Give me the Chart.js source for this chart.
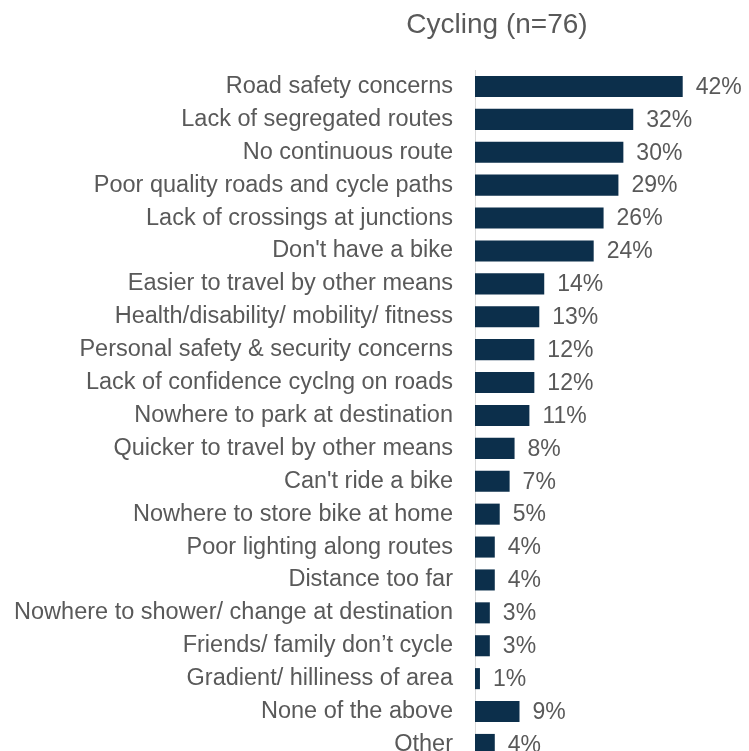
<!DOCTYPE html>
<html>
<head>
<meta charset="utf-8">
<script src="https://cdn.jsdelivr.net/npm/chart.js@4"></script>
<style>
  html, body { margin: 0; padding: 0; background: #fff; overflow: hidden; }
  canvas { display: block; }
</style>
</head>
<body>
<canvas id="cyclingChart" width="749" height="797"></canvas>
<script>
// === Data ===
const chartTitle = "Cycling (n=76)";
const categories = [
  "Road safety concerns",
  "Lack of segregated routes",
  "No continuous route",
  "Poor quality roads and cycle paths",
  "Lack of crossings at junctions",
  "Don't have a bike",
  "Easier to travel by other means",
  "Health/disability/ mobility/ fitness",
  "Personal safety & security concerns",
  "Lack of confidence cyclng on roads",
  "Nowhere to park at destination",
  "Quicker to travel by other means",
  "Can't ride a bike",
  "Nowhere to store bike at home",
  "Poor lighting along routes",
  "Distance too far",
  "Nowhere to shower/ change at destination",
  "Friends/ family don\u2019t cycle",
  "Gradient/ hilliness of area",
  "None of the above",
  "Other"
];
const percentages = [42, 32, 30, 29, 26, 24, 14, 13, 12, 12, 11, 8, 7, 5, 4, 4, 3, 3, 1, 9, 4];

const textColor = "#595959";
const barColor = "#0c2f4b";
const fontFamily = "'Liberation Sans', Arial, sans-serif";

// === Plugins: title + value labels ===
const titlePlugin = {
  id: "topTitle",
  afterDraw(chart) {
    const { ctx } = chart;
    ctx.save();
    ctx.font = `28px ${fontFamily}`;
    ctx.fillStyle = textColor;
    ctx.textAlign = "center";
    ctx.textBaseline = "middle";
    ctx.fillText(chartTitle, 497, 25);
    ctx.restore();
  }
};

const valueLabels = {
  id: "valueLabels",
  afterDatasetsDraw(chart) {
    const { ctx } = chart;
    const meta = chart.getDatasetMeta(0);
    ctx.save();
    ctx.font = `23px ${fontFamily}`;
    ctx.fillStyle = textColor;
    ctx.textAlign = "left";
    ctx.textBaseline = "middle";
    meta.data.forEach((bar, i) => {
      ctx.fillText(percentages[i] + "%", bar.x + 13, bar.y + 1);
    });
    ctx.restore();
  }
};

// === Chart ===
const ctx = document.getElementById("cyclingChart");

new Chart(ctx, {
  type: "bar",
  data: {
    labels: categories,
    datasets: [{
      data: percentages,
      backgroundColor: barColor,
      borderWidth: 0,
      barPercentage: 0.64,
      categoryPercentage: 1.0,
    }],
  },
  options: {
    indexAxis: "y",
    responsive: false,
    animation: false,
    layout: { padding: { top: 70, right: 2, bottom: 3, left: 0 } },
    plugins: {
      legend: { display: false },
      tooltip: { enabled: false },
    },
    scales: {
      x: {
        min: 0,
        max: 55,
        display: false,
        grid: { display: false },
      },
      y: {
        afterFit: (scale) => { scale.width = 475; },
        grid: { display: false, drawTicks: false },
        border: { display: true, color: "#d9d9d9", width: 1 },
        ticks: {
          color: textColor,
          padding: 22,
          autoSkip: false,
          font: { family: fontFamily, size: 23.5 },
        },
      },
    },
  },
  plugins: [titlePlugin, valueLabels],
});
</script>
</body>
</html>
